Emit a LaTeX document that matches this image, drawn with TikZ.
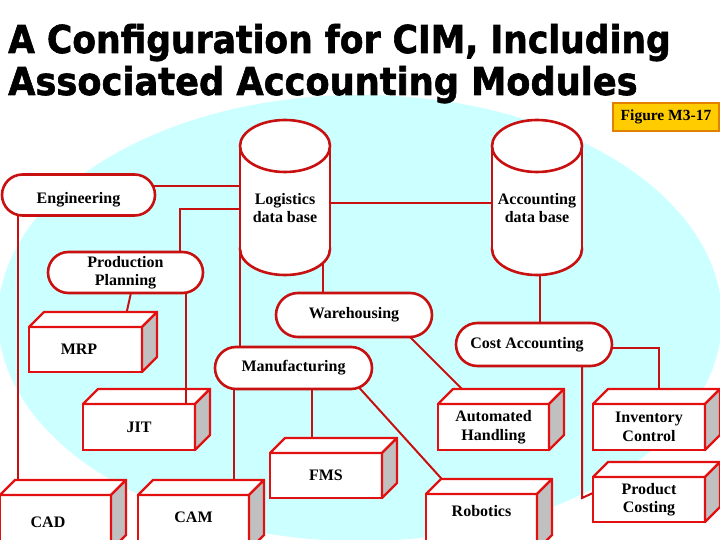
\documentclass[tikz,border=0pt]{standalone}
\usepackage{graphicx}
\usepackage{fontspec}
\setmainfont{Liberation Serif}
\newfontfamily\titlefont{DejaVu Sans}[BoldFeatures={FakeBold=1.6}]
\usetikzlibrary{shapes.misc}
\pgfdeclarelayer{back}
\pgfdeclarelayer{wires}
\pgfsetlayers{back,wires,main}
\definecolor{bgcyan}{RGB}{204,255,255}
\definecolor{pillred}{RGB}{200,16,16}
\definecolor{boxred}{RGB}{226,16,16}
\definecolor{sidegray}{RGB}{192,192,192}
\definecolor{figfill}{RGB}{255,204,0}
\definecolor{figedge}{RGB}{226,128,0}
\newcommand{\cube}[6]{%
  \node[boxface, minimum width=#4pt, minimum height=#5pt, anchor=north west] (#1) at (#2,#3) {#6};
  \draw[boxline, fill=white] (#1.north west) -- ++(15,-15) -- ++(#4,0) -- (#1.north east) -- cycle;
  \draw[boxline, fill=sidegray] (#1.north east) -- ++(15,-15) -- ++(0,#5) -- (#1.south east) -- cycle;
}
\newcommand{\dbcyl}[3]{%
  \draw[cylline, fill=white] (#2,249) ellipse [x radius=45pt, y radius=26pt];
  \fill[white] (#2-45,146) rectangle (#2+45,249);
  \draw[cylline] (#2-45,146) -- (#2-45,249) (#2+45,146) -- (#2+45,249);
  \draw[cylline, fill=white] (#2,146) ellipse [x radius=45pt, y radius=26pt];
  \node[dbtext] (#1) at (#2,208) {#3};
}
\begin{document}
\begin{tikzpicture}[x=1pt,y=-1pt,
  lbl/.style={font=\fontsize{16pt}{18.5pt}\selectfont\bfseries, align=center},
  pill/.style={rounded rectangle, draw=pillred, line width=2.6pt, fill=white, lbl, inner sep=0pt},
  boxface/.style={rectangle, draw=boxred, line width=2.4pt, fill=white, lbl, inner sep=0pt, outer sep=0pt},
  boxline/.style={draw=boxred, line width=2.4pt, line join=round},
  cylline/.style={draw=pillred, line width=2.6pt},
  dbtext/.style={lbl, inner sep=0pt, minimum width=90pt},
  conn/.style={draw=pillred, line width=2pt},
  ttl/.style={font=\titlefont\bfseries\fontsize{38.4pt}{40pt}\selectfont, anchor=base west, inner sep=0pt}
]
\useasboundingbox (0,0) rectangle (720,540);
\begin{pgfonlayer}{back}
  \fill[white] (0,0) rectangle (720,540);
  \begin{scope}
    \clip (0,0) rectangle (720,540);
    \fill[bgcyan] (360,318) ellipse [x radius=362pt, y radius=223pt];
  \end{scope}
\end{pgfonlayer}

% data bases
\dbcyl{logdb}{285}{Logistics\\data base}
\dbcyl{accdb}{537}{Accounting\\data base}

% rounded modules
\node[pill, minimum width=153pt, minimum height=41pt] (eng) at (78.5,195) {\raisebox{-5pt}[\height][\depth]{Engineering}};
\node[pill, minimum width=155pt, minimum height=41pt] (pp) at (125.5,272.5) {Production\\Planning};
\node[pill, minimum width=156pt, minimum height=44pt] (ware) at (354,315) {Warehousing};
\node[pill, minimum width=157pt, minimum height=42pt] (manu) at (293.5,368) {Manufacturing};
\node[pill, minimum width=156pt, minimum height=43pt] (cost) at (534,344.5) {\hspace*{-14pt}Cost Accounting};

% boxes
\cube{mrp}{29}{327}{113}{45}{\hspace*{-13pt}MRP}
\cube{jit}{83}{404}{112}{46}{JIT}
\cube{cad}{0}{495}{111}{55}{\hspace*{-15pt}CAD}
\cube{cam}{138}{495}{111}{55}{\raisebox{10pt}{CAM}}
\cube{fms}{270}{453}{112}{45}{FMS}
\cube{ah}{438}{404}{111}{46}{Automated\\Handling}
\cube{rob}{426}{494}{111}{56}{\raisebox{22pt}{Robotics}}
\cube{ic}{593}{404}{112}{46}{Inventory\\Control}
\cube{pc}{593}{477}{112}{45}{Product\\Costing}

% connectors
\begin{pgfonlayer}{wires}
\draw[conn] ([yshift=9pt]eng.center) -- ([yshift=22pt]logdb.center);
\draw[conn] ([yshift=5pt]logdb.center) -- ([yshift=5pt]accdb.center);
\draw[conn] ([xshift=54.5pt]pp.center) |- ([yshift=-1pt]logdb.center);
\draw[conn] ([xshift=-60.5pt]eng.center) -- ([xshift=-60.5pt]eng.center |- cad.center);
\draw[conn] ([xshift=10pt]pp.center) -- ([xshift=39pt,yshift=5pt]mrp.north);
\draw[conn] ([xshift=-45pt]logdb.center) -- ([xshift=-45pt]logdb.center |- manu.center);
\draw[conn] ([xshift=38pt]logdb.center) -- ([xshift=38pt]logdb.center |- ware.center);
\draw[conn] ([xshift=3pt]accdb.center) -- ([xshift=3pt]accdb.center |- cost.center);
\draw[conn] ([xshift=39pt,yshift=-5pt]ware.center) -- ([xshift=-23.5pt,yshift=7pt]ah.north);
\draw[conn] ([xshift=51.5pt,yshift=-4pt]manu.center) -- ([xshift=-32.5pt,yshift=7pt]rob.north);
\draw[conn] ([xshift=-59.5pt]manu.center) -- ([xshift=-59.5pt]manu.center |- cam.center);
\draw[conn] ([xshift=18.5pt]manu.center) -- ([xshift=18.5pt]manu.center |- fms.center);
\draw[conn] ([yshift=-3.5pt]cost.center) -| ([xshift=10pt]ic.north);
\draw[conn] ([xshift=48pt]cost.center) -- ([xshift=-11pt,yshift=1.5pt]pc.west) -- ([yshift=6.5pt]pc.west);
\end{pgfonlayer}
\draw[conn] ([xshift=60.5pt]pp.south) -- ([xshift=60.5pt]pp.south |- jit.north);

% figure label
\node[draw=figedge, fill=figfill, line width=1.6pt, minimum width=106pt, minimum height=28pt, inner sep=0pt,
      font=\fontsize{15.5pt}{17pt}\selectfont\bfseries] (fig) at (666,117) {Figure M3-17};

% title
\node[ttl] (t1) at (8,53) {\scalebox{0.9}[1]{A Configuration for CIM, Including}};
\node[ttl] (t2) at (8,95) {\scalebox{0.917}[1]{Associated Accounting Modules}};
\end{tikzpicture}
\end{document}
